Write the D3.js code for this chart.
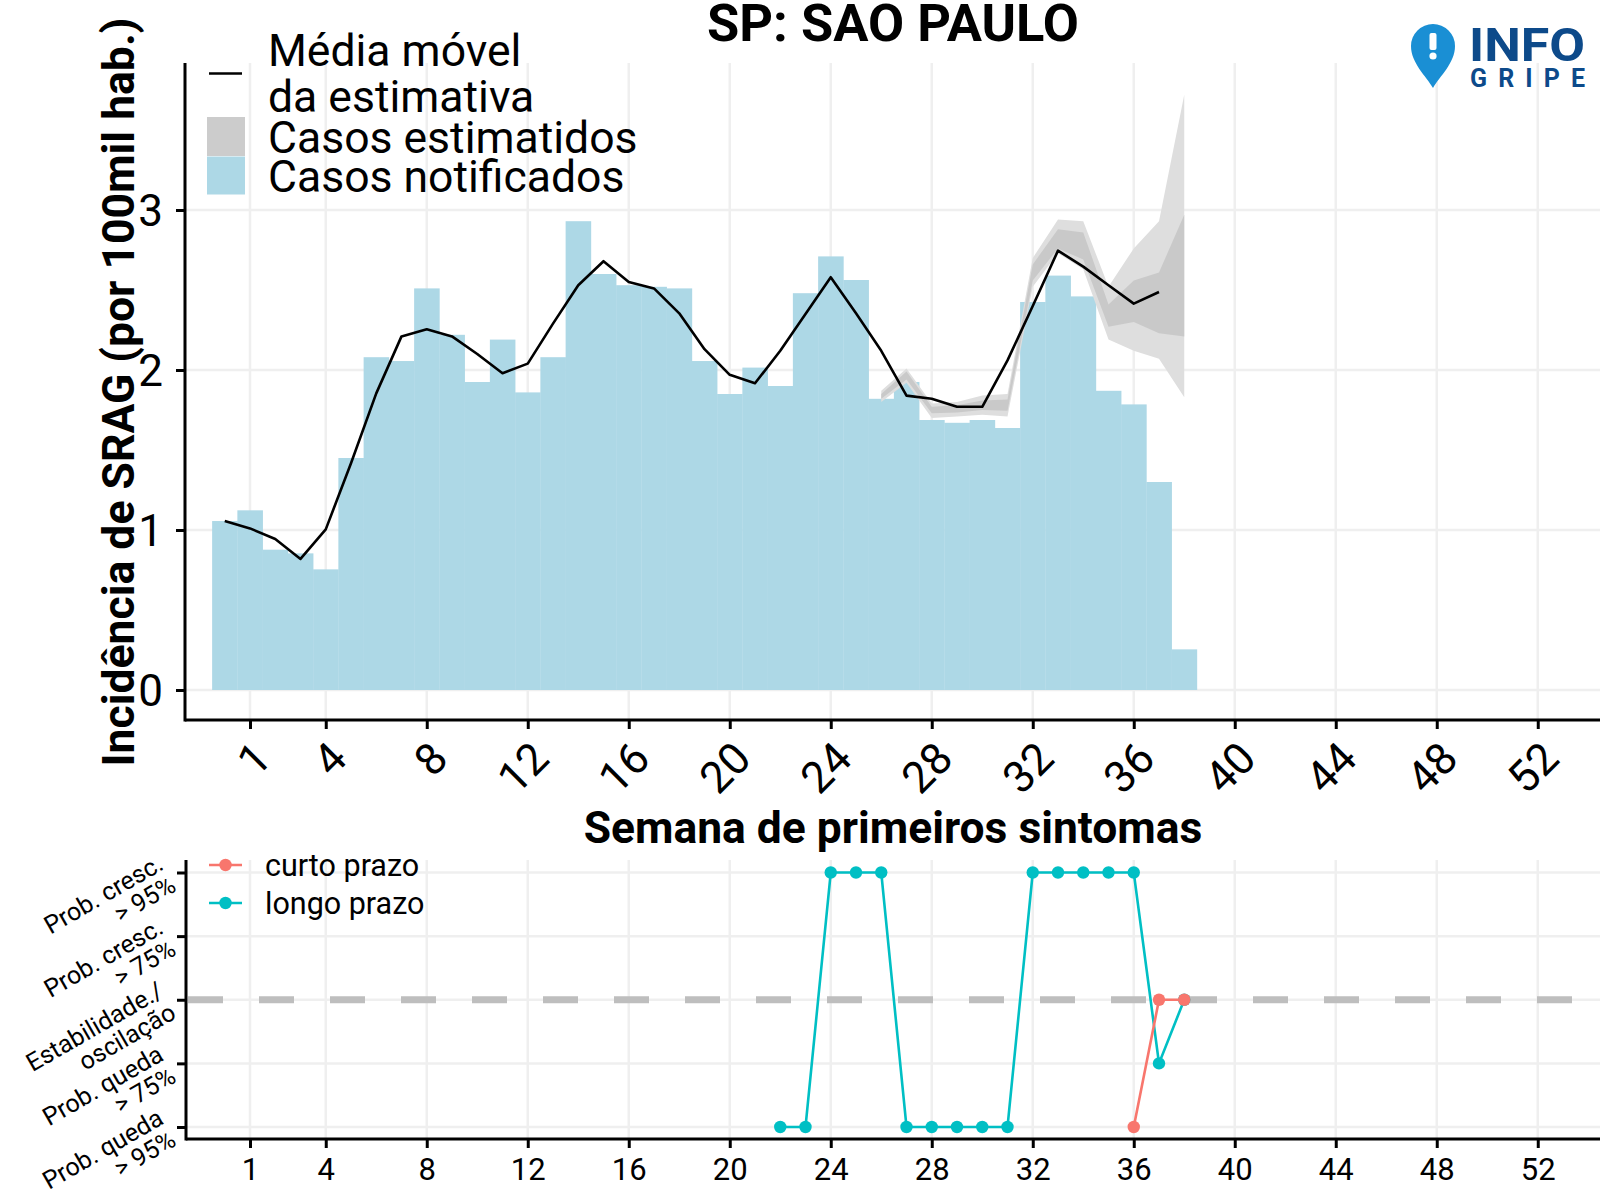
<!DOCTYPE html>
<html>
<head>
<meta charset="utf-8">
<script src="https://cdn.jsdelivr.net/npm/d3@7"></script>
<style>
  html, body { margin: 0; padding: 0; background: #fff; }
  svg { display: block; font-family: Roboto, "Noto Sans", sans-serif; }
</style>
</head>
<body>
<svg id="chart" width="1600" height="1200"></svg>
<script>
// ---------------- DATA ----------------
const weeks = [0,1,2,3,4,5,6,7,8,9,10,11,12,13,14,15,16,17,18,19,20,21,22,23,24,25,26,27,28,29,30,31,32,33,34,35,36,37,38];
const notified = [1.056,1.123,0.877,0.854,0.754,1.45,2.08,2.056,2.51,2.22,1.925,2.19,1.86,2.08,2.93,2.60,2.53,2.52,2.51,2.056,1.85,2.015,1.90,2.48,2.71,2.5625,1.82,1.925,1.6875,1.67,1.6875,1.6375,2.425,2.59,2.46,1.87,1.785,1.30,0.254];
const avgWeeks = [0,1,2,3,4,5,6,7,8,9,10,11,12,13,14,15,16,17,18,19,20,21,22,23,24,25,26,27,28,29,30,31,32,33,34,35,36,37];
const movingAvg = [1.056,1.01,0.944,0.819,1.004,1.417,1.854,2.21,2.254,2.21,2.10,1.98,2.04,2.29,2.53,2.68,2.55,2.51,2.354,2.13,1.97,1.917,2.12,2.35,2.58,2.354,2.12,1.84,1.82,1.77,1.77,2.06,2.40,2.746,2.646,2.53,2.415,2.4875];
const estWeeks = [26,27,28,29,30,31,32,33,34,35,36,37,38];
const estLo95 = [1.80,1.92,1.70,1.71,1.72,1.71,2.52,2.73,2.63,2.19,2.12,2.07,1.83];
const estHi95 = [1.87,2.01,1.79,1.80,1.84,1.85,2.70,2.94,2.93,2.52,2.76,2.93,3.72];
const estLo50 = [1.82,1.94,1.73,1.735,1.75,1.745,2.56,2.76,2.69,2.27,2.30,2.23,2.21];
const estHi50 = [1.85,1.99,1.77,1.78,1.81,1.815,2.66,2.88,2.86,2.41,2.56,2.61,2.97];

const trendWeeks = [22,23,24,25,26,27,28,29,30,31,32,33,34,35,36,37,38];
const longoPrazo = [-2,-2,2,2,2,-2,-2,-2,-2,-2,2,2,2,2,2,-1,0];
const curtoWeeks = [36,37,38];
const curtoPrazo = [-2,0,0];

const xTicks = [1,4,8,12,16,20,24,28,32,36,40,44,48,52];
const yTicks = [0,1,2,3];
const trendLevels = [2,1,0,-1,-2];
const trendLabels = [["Prob. cresc.","> 95%"],["Prob. cresc.","> 75%"],["Estabilidade./","oscilação"],["Prob. queda","> 75%"],["Prob. queda","> 95%"]];

const title = "SP: SAO PAULO";
const yTitle = "Incidência de SRAG (por 100mil hab.)";
const xTitle = "Semana de primeiros sintomas";
const legendTop = [["Média móvel","da estimativa"],["Casos estimatidos"],["Casos notificados"]];
const legendBottom = ["curto prazo","longo prazo"];

// ---------------- STYLE ----------------
const C_BAR = "#ADD8E6", C_OUT = "#dedede", C_IN = "#c9c9c9", C_GRID = "#efefef";
const C_CURTO = "#F8766D", C_LONGO = "#00BFC4";

const svg = d3.select("#chart");
const x = d3.scaleLinear().domain([1,52]).range([250,1537.75]);
const y = d3.scaleLinear().domain([0,3]).range([690,210]);
const yb = d3.scaleLinear().domain([-2,2]).range([1127,872.5]);

const P1 = {left:185, right:1600, top:63, bottom:720};
const P2 = {left:186, right:1600, top:860, bottom:1139};

// ---- top panel grid
const g1 = svg.append("g");
g1.selectAll("line.vg").data(xTicks).join("line")
  .attr("x1", d=>x(d)).attr("x2", d=>x(d)).attr("y1", P1.top).attr("y2", P1.bottom)
  .attr("stroke", C_GRID).attr("stroke-width", 2.5);
g1.selectAll("line.hg").data(yTicks).join("line")
  .attr("x1", P1.left).attr("x2", P1.right).attr("y1", d=>y(d)).attr("y2", d=>y(d))
  .attr("stroke", C_GRID).attr("stroke-width", 2.5);

// bars
const barData = weeks.map((w,i)=>({w, v:notified[i]}));
g1.selectAll("rect.bar").data(barData).join("rect")
  .attr("x", d=>x(d.w-0.5)).attr("width", d=>x(d.w+0.5)-x(d.w-0.5)+0.3)
  .attr("y", d=>y(d.v)).attr("height", d=>y(0)-y(d.v))
  .attr("fill", C_BAR);

// bands
const est = estWeeks.map((w,i)=>({w, lo95:estLo95[i], hi95:estHi95[i], lo50:estLo50[i], hi50:estHi50[i]}));
g1.append("path").datum(est)
  .attr("d", d3.area().x(d=>x(d.w)).y0(d=>y(d.lo95)).y1(d=>y(d.hi95)))
  .attr("fill", C_OUT);
g1.append("path").datum(est)
  .attr("d", d3.area().x(d=>x(d.w)).y0(d=>y(d.lo50)).y1(d=>y(d.hi50)))
  .attr("fill", C_IN);

// moving average line
const avg = avgWeeks.map((w,i)=>({w, v:movingAvg[i]}));
g1.append("path").datum(avg)
  .attr("d", d3.line().x(d=>x(d.w)).y(d=>y(d.v)))
  .attr("fill","none").attr("stroke","#000").attr("stroke-width",2.6).attr("stroke-linejoin","round");

// axes top
const xAxis1 = svg.append("g").attr("transform",`translate(0,${P1.bottom})`)
  .call(d3.axisBottom(x).tickValues(xTicks).tickSize(9).tickSizeOuter(0).tickFormat(d3.format("d")));
xAxis1.select(".domain").remove();
xAxis1.selectAll(".tick line").attr("stroke","#000").attr("stroke-width",3);
xAxis1.selectAll(".tick text")
  .attr("font-size",44).attr("font-family","Roboto").attr("fill","#000")
  .attr("text-anchor","end").attr("x",0).attr("y",0).attr("dy",0)
  .attr("transform","translate(23,41) rotate(-45)");
svg.append("line").attr("x1",P1.left).attr("x2",P1.right).attr("y1",P1.bottom).attr("y2",P1.bottom)
  .attr("stroke","#000").attr("stroke-width",3);

const yAxis1 = svg.append("g").attr("transform",`translate(${P1.left},0)`)
  .call(d3.axisLeft(y).tickValues(yTicks).tickSize(9).tickPadding(13).tickSizeOuter(0).tickFormat(d3.format("d")));
yAxis1.select(".domain").remove();
yAxis1.selectAll(".tick line").attr("stroke","#000").attr("stroke-width",3);
yAxis1.selectAll(".tick text").attr("font-size",44).attr("font-family","Roboto").attr("fill","#000").attr("dy","0.35em");
svg.append("line").attr("x1",P1.left).attr("x2",P1.left).attr("y1",P1.top).attr("y2",P1.bottom+1.5)
  .attr("stroke","#000").attr("stroke-width",3);

// titles
svg.append("text").attr("x",893).attr("y",41).attr("text-anchor","middle")
  .attr("font-size",51).attr("font-weight","bold")
  .attr("textLength",372).attr("lengthAdjust","spacingAndGlyphs").text(title);
svg.append("text").attr("transform","translate(134,392) rotate(-90)").attr("text-anchor","middle")
  .attr("font-size",44.5).attr("font-weight","bold").text(yTitle);
svg.append("text").attr("x",893).attr("y",843).attr("text-anchor","middle")
  .attr("font-size",44.4).attr("font-weight","bold").text(xTitle);

// top legend
svg.append("line").attr("x1",209).attr("x2",242).attr("y1",73.5).attr("y2",73.5).attr("stroke","#000").attr("stroke-width",2.6);
svg.append("rect").attr("x",207).attr("y",117).attr("width",38).attr("height",39).attr("fill","#cccccc");
svg.append("rect").attr("x",207).attr("y",156.5).attr("width",38).attr("height",38).attr("fill",C_BAR);
const legBase = [[66,112],[153],[192]];
legendTop.forEach((lines,i)=>{
  lines.forEach((t,j)=>{
    svg.append("text").attr("x",268).attr("y",legBase[i][j]).attr("font-size",44.5).text(t);
  });
});

// logo
const logo = svg.append("g");
logo.append("path")
  .attr("d","M1433,88 C1426,76 1411,63 1411,46 A22,22 0 1,1 1455,46 C1455,63 1440,76 1433,88 Z")
  .attr("fill","#1a8fd4");
logo.append("rect").attr("x",1429.5).attr("y",33).attr("width",7).attr("height",17).attr("rx",2).attr("fill","#fff");
logo.append("circle").attr("cx",1433).attr("cy",56).attr("r",3.6).attr("fill","#fff");
logo.append("text").attr("x",1469).attr("y",61).attr("font-size",46).attr("font-weight","bold")
  .attr("fill","#0d4a8a").attr("textLength",116).attr("lengthAdjust","spacingAndGlyphs").text("INFO");
logo.append("text").attr("x",1470).attr("y",87).attr("font-size",25).attr("font-weight","bold")
  .attr("fill","#0d4a8a").attr("textLength",115).attr("lengthAdjust","spacing").text("GRIPE");

// ---------------- bottom panel ----------------
const g2 = svg.append("g");
g2.selectAll("line.vg").data(xTicks).join("line")
  .attr("x1", d=>x(d)).attr("x2", d=>x(d)).attr("y1", P2.top).attr("y2", P2.bottom)
  .attr("stroke", C_GRID).attr("stroke-width", 2.5);
g2.selectAll("line.hg").data(trendLevels).join("line")
  .attr("x1", P2.left).attr("x2", P2.right).attr("y1", d=>yb(d)).attr("y2", d=>yb(d))
  .attr("stroke", C_GRID).attr("stroke-width", 2.5);
g2.append("line").attr("x1",P2.left+2).attr("x2",P2.right).attr("y1",yb(0)).attr("y2",yb(0))
  .attr("stroke","#bebebe").attr("stroke-width",7).attr("stroke-dasharray","35,36");

const longo = trendWeeks.map((w,i)=>({w, v:longoPrazo[i]}));
const curto = curtoWeeks.map((w,i)=>({w, v:curtoPrazo[i]}));
const tline = d3.line().x(d=>x(d.w)).y(d=>yb(d.v));
g2.append("path").datum(longo).attr("d",tline).attr("fill","none").attr("stroke",C_LONGO).attr("stroke-width",2.6);
g2.selectAll("circle.lp").data(longo).join("circle").attr("cx",d=>x(d.w)).attr("cy",d=>yb(d.v)).attr("r",6.2).attr("fill",C_LONGO);
g2.append("path").datum(curto).attr("d",tline).attr("fill","none").attr("stroke",C_CURTO).attr("stroke-width",2.6);
g2.selectAll("circle.cp").data(curto).join("circle").attr("cx",d=>x(d.w)).attr("cy",d=>yb(d.v)).attr("r",6.2).attr("fill",C_CURTO);

// bottom axes
const xAxis2 = svg.append("g").attr("transform",`translate(0,${P2.bottom})`)
  .call(d3.axisBottom(x).tickValues(xTicks).tickSize(9).tickSizeOuter(0).tickFormat(d3.format("d")));
xAxis2.select(".domain").remove();
xAxis2.selectAll(".tick line").attr("stroke","#000").attr("stroke-width",3);
xAxis2.selectAll(".tick text").attr("font-size",31).attr("font-family","Roboto").attr("fill","#000").attr("y",41).attr("dy",0);
svg.append("line").attr("x1",P2.left).attr("x2",P2.right).attr("y1",P2.bottom).attr("y2",P2.bottom)
  .attr("stroke","#000").attr("stroke-width",3);

const yAxis2 = svg.append("g").attr("transform",`translate(${P2.left},0)`)
  .call(d3.axisLeft(yb).tickValues(trendLevels).tickSize(9).tickSizeOuter(0).tickFormat(""));
yAxis2.select(".domain").remove();
yAxis2.selectAll(".tick line").attr("stroke","#000").attr("stroke-width",3);
yAxis2.selectAll(".tick").each(function(d,i){
  const t = d3.select(this).select("text");
  t.attr("x",null).attr("y",null).attr("dy",null)
   .attr("transform","translate(-19,-1) rotate(-30)")
   .attr("text-anchor","end").attr("font-size",25).attr("font-family","Roboto").attr("fill","#000");
  const labs = trendLabels[trendLevels.indexOf(d)];
  t.append("tspan").attr("x",0).attr("y",-4).text(labs[0]);
  t.append("tspan").attr("x",0).attr("y",21).text(labs[1]);
});
svg.append("line").attr("x1",P2.left).attr("x2",P2.left).attr("y1",P2.top).attr("y2",P2.bottom+1.5)
  .attr("stroke","#000").attr("stroke-width",3);

// bottom legend
const lgY = [865,903];
const lgC = [C_CURTO, C_LONGO];
legendBottom.forEach((t,i)=>{
  svg.append("line").attr("x1",209).attr("x2",242).attr("y1",lgY[i]).attr("y2",lgY[i]).attr("stroke",lgC[i]).attr("stroke-width",2.6);
  svg.append("circle").attr("cx",225.5).attr("cy",lgY[i]).attr("r",6.2).attr("fill",lgC[i]);
  svg.append("text").attr("x",265).attr("y",lgY[i]+11).attr("font-size",30.5).text(t);
});
</script>
</body>
</html>
